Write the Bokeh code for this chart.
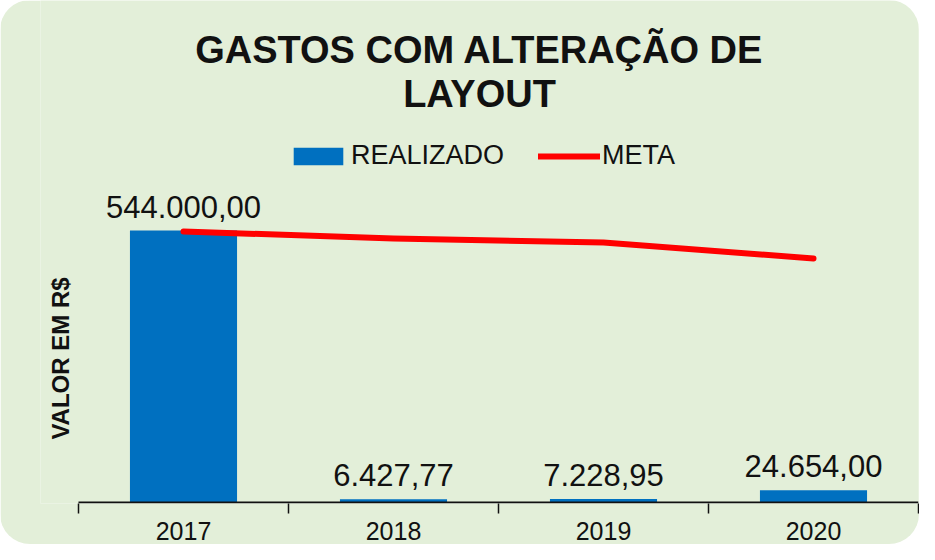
from bokeh.plotting import figure
from bokeh.models import (Range1d, FixedTicker, ColumnDataSource, Legend, LegendItem, Label)
from bokeh.core.properties import value
from bokeh.embed import file_html
from bokeh.resources import INLINE

# ---- data ----
years = ["2017", "2018", "2019", "2020"]
realizado = [544000.00, 6427.77, 7228.95, 24654.00]
realizado_labels = ["544.000,00", "6.427,77", "7.228,95", "24.654,00"]
meta = [542000, 528000, 520000, 488000]
title_lines = ["GASTOS COM ALTERAÇÃO DE", "LAYOUT"]
y_label = "VALOR EM R$"

FONT = "Liberation Sans"
GREEN = "#E3EFD9"
BLUE = "#0070C0"
RED = "#FF0000"
INK = "#111111"

n = len(years)
xs = [i + 0.5 for i in range(n)]
src = ColumnDataSource(dict(x=xs, real=realizado, lab=realizado_labels, meta=meta))

# frame: left edge 38px left of the first category boundary (room for the y label)
p = figure(width=919, height=544, output_backend="svg", toolbar_location=None,
           x_range=Range1d(-38 / 210, n), y_range=Range1d(-2000, 1004000),
           min_border_left=40, min_border_right=1, min_border_top=0, min_border_bottom=41,
           title_location=None)
p.border_fill_color = GREEN
p.background_fill_color = GREEN
p.outline_line_color = None
p.grid.visible = False
p.styles = {"border-radius": "30px", "overflow": "hidden"}

bars = p.vbar(x="x", top="real", width=0.51, source=src, fill_color=BLUE, line_color=None)
line = p.line(x="x", y="meta", source=src, line_color=RED, line_width=6,
              line_cap="round", line_join="round")

# baseline (category axis line) spanning the categories only
p.segment(x0=[0], x1=[n], y0=[0], y1=[0], line_color=INK, line_width=2)

p.text(x="x", y="real", text="lab", source=src, text_align="center", text_baseline="bottom",
       y_offset=-13, text_font=value(FONT), text_font_size="31px", text_color=INK)

# x axis
ax = p.xaxis[0]
ax.ticker = FixedTicker(ticks=xs, minor_ticks=list(range(n + 1)))
ax.major_label_overrides = {x: y for x, y in zip(xs, years)}
ax.major_tick_line_color = None
ax.major_tick_out = 10
ax.major_tick_in = 0
ax.minor_tick_line_color = INK
ax.minor_tick_line_width = 1.5
ax.minor_tick_out = 10
ax.minor_tick_in = 0
ax.axis_line_color = None
ax.major_label_standoff = 8
ax.major_label_text_font = FONT
ax.major_label_text_font_size = "25px"
ax.major_label_text_color = INK

p.yaxis.visible = False

# y label
p.add_layout(Label(x=20, y=145, x_units="screen", y_units="screen", text=y_label,
                   angle=1.5708, text_align="center", text_baseline="middle",
                   text_font=FONT, text_font_size="24px", text_font_style="bold",
                   text_color=INK))

# title
for t, yy in zip(title_lines, [454, 410]):
    p.add_layout(Label(x=439, y=yy, x_units="screen", y_units="screen", text=t,
                       text_align="center", text_baseline="middle",
                       text_font=FONT, text_font_size="38px", text_font_style="bold",
                       text_color=INK))

legend = Legend(items=[LegendItem(label="REALIZADO", renderers=[bars]),
                       LegendItem(label="META", renderers=[line])],
                orientation="horizontal", location=(247, 332),
                glyph_width=62, glyph_height=22, label_text_font=FONT,
                label_text_font_size="27px", label_text_color=INK,
                spacing=34, label_standoff=2, padding=0, margin=0,
                background_fill_alpha=0, border_line_color=None)
p.add_layout(legend)

open("out.html", "w").write(file_html(p, INLINE))
